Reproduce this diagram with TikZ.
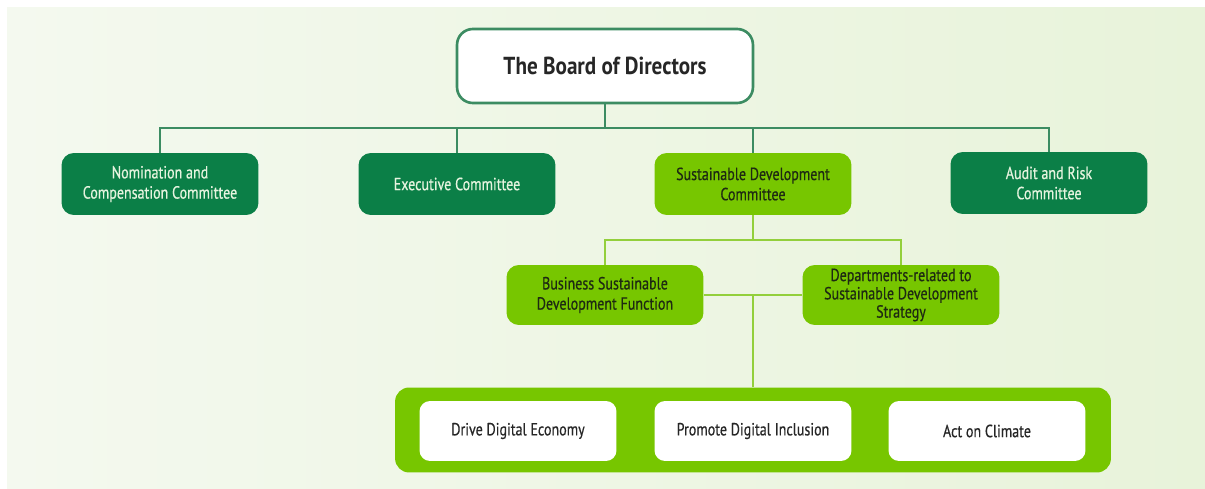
\documentclass[tikz,border=0pt]{standalone}
\usepackage{fontspec}
\setmainfont{PT Sans}[FakeStretch=0.86]
\newfontfamily\boxfont{PT Sans}[FakeStretch=0.8, FakeBold=0.5]
\usepackage{tikz}
\usetikzlibrary{positioning}
\usepackage{xcolor}
\definecolor{darkgreen}{HTML}{0B7F47}
\definecolor{limegreen}{HTML}{77C600}
\definecolor{treeline}{HTML}{3C8C62}
\definecolor{limeline}{HTML}{93CF3C}
\definecolor{bgleft}{HTML}{F4F9EF}
\definecolor{bgright}{HTML}{E8F3DA}
\definecolor{paletext}{HTML}{E6F4DF}
\definecolor{inktext}{HTML}{1E2A12}

\begin{document}
\begin{tikzpicture}[x=0.02cm, y=-0.02cm,
		box/.style = {rounded corners=7pt, minimum width=3.94cm, minimum height=1.24cm, align=center, inner sep=2pt,
			font=\boxfont\fontsize{10}{11.5}\selectfont},
		dark/.style = {box, fill=darkgreen, text=paletext},
		lime/.style = {box, fill=limegreen, text=inktext},
		goal/.style = {box, fill=white, text=black!85, minimum height=1.2cm, rounded corners=6pt},
		t/.style = {treeline, line width=1pt},
		l/.style = {limeline, line width=1pt},
		]
		
		% page and soft green backdrop
		\fill[white] (0,0) rectangle (1205,489);
		\useasboundingbox (0,0) rectangle (1205,489);
		\fill[left color=bgleft, right color=bgright] (7,8) rectangle (1205,489);
		
		% board and committees
		\node[box, fill=white, draw=treeline, line width=1.5pt, rounded corners=9pt, minimum width=5.92cm, minimum height=1.48cm,
			font=\fontsize{14}{16}\selectfont\bfseries, text=black!85] (board) at (605,66) {The Board of Directors};
		\node[dark] (nom) at (160,184) {Nomination and\\Compensation Committee};
		\node[dark] (exe) at (457,184) {Executive Committee};
		\node[lime] (sdc) at (753,184) {Sustainable Development\\Committee};
		\node[dark] (aud) at (1049,183) {Audit and Risk\\Committee};
		
		% functions under the sustainability committee
		\node[lime, minimum height=1.2cm] (bsf) at (605,295) {Business Sustainable\\Development Function};
		\node[lime, minimum height=1.2cm, inner sep=1pt, font=\boxfont\fontsize{10}{10.4}\selectfont] (dep) at (901,295)
			{Departments-related to\\Sustainable Development\\Strategy};
		
		% strategic pillars
		\node[box, fill=limegreen, minimum width=14.32cm, minimum height=1.7cm, rounded corners=8pt] (pillars) at (753,430) {};
		\node[goal] (dde) at (518,431) {Drive Digital Economy};
		\node[goal] (pdi) at (753,431) {Promote Digital Inclusion};
		\node[goal] (aoc) at (987,431) {Act on Climate};
		
		% top tree
		\coordinate (split) at (605,128);
		\draw[t] (board.south) -- (split);
		\draw[t] (split) -| (nom.north);
		\draw[t] (split) -| (exe.north);
		\draw[t] (split) -| (sdc.north);
		\draw[t] (split) -| (aud.north);
		
		% lower tree
		\coordinate (fork) at (753,240);
		\draw[l] (sdc.south) -- (fork);
		\draw[l] (fork) -| (bsf.north);
		\draw[l] (fork) -| (dep.north);
		\draw[l] (bsf.east) -- (dep.west);
		\draw[l] (pillars.north) -- (pillars.north |- bsf.east);
	\end{tikzpicture}
\end{document}
